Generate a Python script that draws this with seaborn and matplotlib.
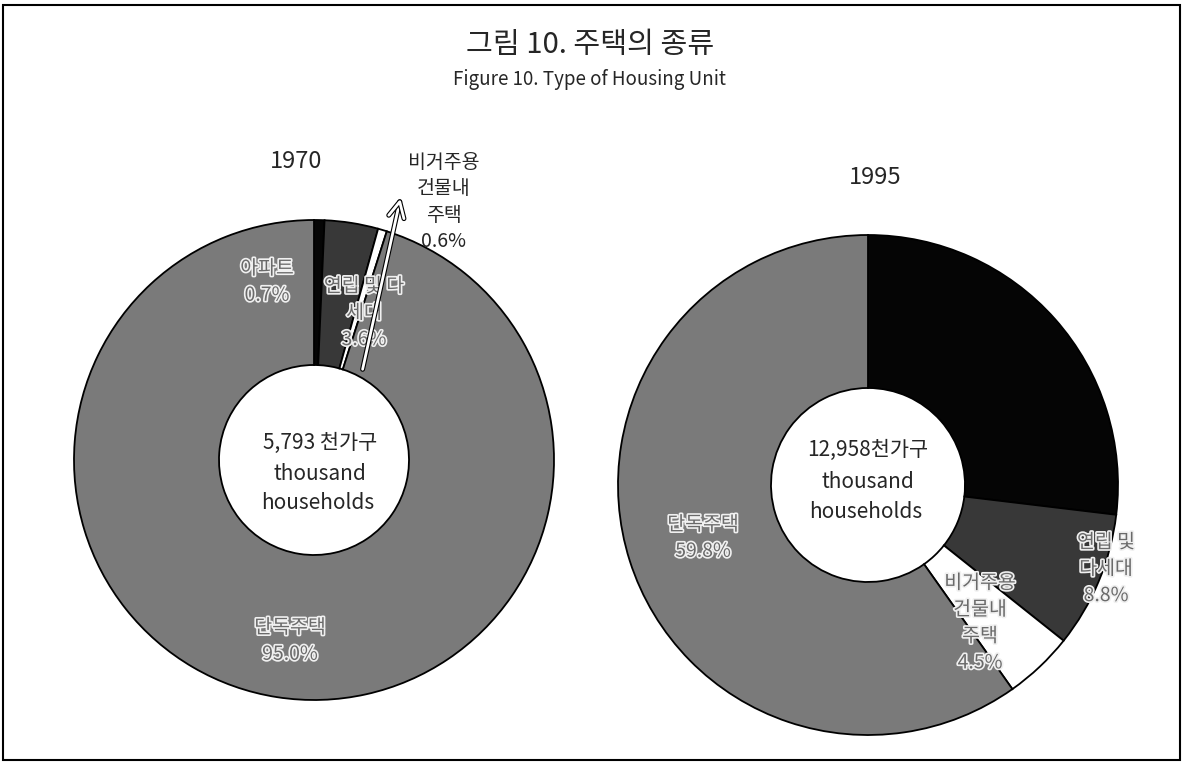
import matplotlib
matplotlib.use("Agg")
import matplotlib.pyplot as plt
import matplotlib.patheffects as pe
from matplotlib.patches import Rectangle
import seaborn as sns

# data
categories = ["아파트", "연립 및 다세대", "비거주용 건물내 주택", "단독주택"]
years = ["1970", "1995"]
share_1970 = [0.7, 3.6, 0.6, 95.0]
share_1995 = [26.9, 8.8, 4.5, 59.8]
households = [5793, 12958]
labels_1970 = ["아파트", "연립 및 다\n세대", "비거주용\n건물내\n주택", "단독주택"]
labels_1995 = ["아파트", "연립 및\n다세대", "비거주용\n건물내\n주택", "단독주택"]
slice_colors = ["#050505", "#383838", "#ffffff", "#7a7a7a"]

sns.set_theme(style="white")
plt.rcParams["font.family"] = ["Noto Sans CJK KR", "DejaVu Sans"]

W, H = 1183, 763
fig = plt.figure(figsize=(W / 100, H / 100), dpi=100)
ax = fig.add_axes([0, 0, 1, 1])


def Y(y):
    # picture rows run downward, data y runs upward
    return H - y


hollow = [pe.withStroke(linewidth=2.4, foreground="#f0f0f0")]


def donut(values, cx, cy, R, r):
    ax.pie(values, colors=slice_colors, startangle=90, counterclock=False,
           center=(cx, Y(cy)), radius=R, frame=True,
           wedgeprops=dict(width=R - r, edgecolor="black", linewidth=1.3))


donut(share_1970, 314, 460, 240, 95)
donut(share_1995, 868, 485, 250, 97)

# titles
ax.text(590, Y(45), "그림 10. 주택의 종류", ha="center", va="center", fontsize=21)
ax.text(590, Y(79), "Figure 10. Type of Housing Unit", ha="center", va="center", fontsize=13.5)
ax.text(296, Y(162), years[0], ha="center", va="center", fontsize=17)
ax.text(875, Y(177), years[1], ha="center", va="center", fontsize=17)

# centre texts
ax.text(320, Y(443), f"{households[0]:,} 천가구", ha="center", va="center", fontsize=15)
ax.text(320, Y(474), "thousand", ha="center", va="center", fontsize=15)
ax.text(318, Y(503), "households", ha="center", va="center", fontsize=15)
ax.text(868, Y(450), f"{households[1]:,}천가구", ha="center", va="center", fontsize=15)
ax.text(868, Y(482), "thousand", ha="center", va="center", fontsize=15)
ax.text(866, Y(512), "households", ha="center", va="center", fontsize=15)

# 1970 slice labels
lab = dict(ha="center", va="center", fontsize=14, color="#6a6a6a",
           linespacing=1.35, path_effects=hollow)
ax.text(267, Y(282), f"{labels_1970[0]}\n{share_1970[0]:.1f}%", **lab)
ax.text(364, Y(313), f"{labels_1970[1]}\n{share_1970[1]:.1f}%", **lab)
ax.text(290, Y(641), f"{labels_1970[3]}\n{share_1970[3]:.1f}%", **lab)
ax.text(444, Y(202), f"{labels_1970[2]}\n{share_1970[2]:.1f}%", ha="center", va="center",
        fontsize=14, linespacing=1.35)
ax.annotate("", xy=(401, Y(196)), xytext=(362, Y(372)),
            arrowprops=dict(arrowstyle="->", color="white", lw=2, mutation_scale=28,
                            path_effects=[pe.Stroke(linewidth=3.6, foreground="black"),
                                          pe.Normal()]))

# 1995 slice labels
ax.text(703, Y(538), f"{labels_1995[3]}\n{share_1995[3]:.1f}%", **lab)
ax.text(1106, Y(569), f"{labels_1995[1]}\n{share_1995[1]:.1f}%", **lab)
ax.text(980, Y(623), f"{labels_1995[2]}\n{share_1995[2]:.1f}%", **lab)

ax.add_patch(Rectangle((3, 3), 1177, 755, fill=False, edgecolor="black", linewidth=1.5))

ax.set_xlim(0, W)
ax.set_ylim(0, H)
ax.set_aspect("equal")
ax.axis("off")

fig.savefig("out.png", dpi=100)
